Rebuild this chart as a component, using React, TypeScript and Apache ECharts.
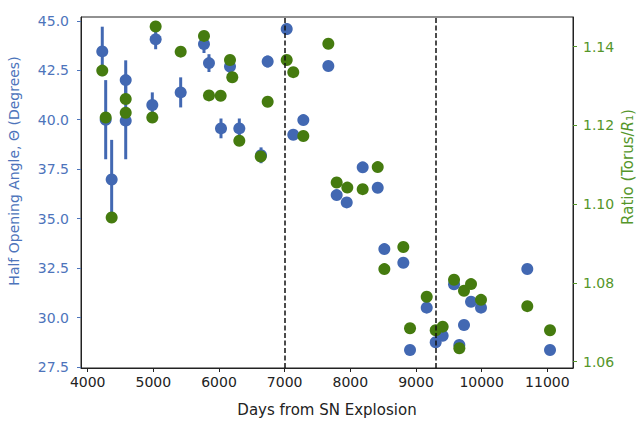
import React, { useEffect, useRef } from "react";
import * as echarts from "echarts";

// Blue series: half opening angle (degrees) with error bars
const angleDays = [4222, 4274, 4365, 4579, 4579, 4984, 5035, 5416, 5771, 5847, 6030, 6167, 6309, 6640, 6741, 7031, 7131, 7284, 7665, 7792, 7945, 8188, 8417, 8518, 8807, 8909, 9163, 9300, 9406, 9579, 9660, 9731, 9838, 9990, 10695, 11041];
const angleValues = [43.45, 40.0, 36.98, 42.0, 39.95, 40.74, 44.06, 41.38, 43.82, 42.86, 39.56, 42.69, 39.56, 38.2, 42.94, 44.58, 39.24, 39.98, 42.71, 36.19, 35.82, 37.59, 36.56, 33.46, 32.77, 28.36, 30.5, 28.75, 29.08, 31.68, 28.61, 29.62, 30.8, 30.5, 32.45, 28.36];
const angleErrors = [1.25, 2.0, 2.0, 1.0, 1.95, 0.64, 0.5, 0.76, 0.45, 0.45, 0.5, 0.35, 0.5, 0.4, 0.3, 0.3, 0, 0, 0, 0, 0, 0, 0, 0, 0, 0, 0, 0, 0, 0, 0, 0, 0, 0, 0, 0];

// Green series: ratio (Torus / R1)
const ratioDays = [4222, 4274, 4365, 4579, 4579, 4984, 5035, 5416, 5771, 5847, 6025, 6167, 6202, 6309, 6635, 6741, 7031, 7131, 7284, 7665, 7792, 7954, 8188, 8417, 8518, 8807, 8909, 9163, 9300, 9406, 9579, 9660, 9731, 9838, 9990, 10695, 11041];
const ratioValues = [1.1339, 1.122, 1.0966, 1.1267, 1.1232, 1.122, 1.1451, 1.1387, 1.1427, 1.1276, 1.1275, 1.1366, 1.1322, 1.1161, 1.1121, 1.126, 1.1366, 1.1335, 1.1173, 1.1407, 1.1055, 1.1042, 1.1038, 1.1094, 1.0835, 1.0891, 1.0685, 1.0765, 1.068, 1.0689, 1.0808, 1.0634, 1.078, 1.0797, 1.0757, 1.0741, 1.068];

// Reference lines
const vLines = [7000, 9300];

// Tick labels
const xTicks = [4000, 5000, 6000, 7000, 8000, 9000, 10000, 11000];
const angleTicks = [27.5, 30.0, 32.5, 35.0, 37.5, 40.0, 42.5, 45.0];
const ratioTicks = [1.06, 1.08, 1.1, 1.12, 1.14];

const BLUE = "#4268b2";
const BLUE_TEXT = "#4d74bb";
const GREEN = "#457b0f";
const GREEN_TEXT = "#55962a";
const FONT = "DejaVu Sans";

export default function App() {
  const ref = useRef<HTMLDivElement>(null);

  useEffect(() => {
    if (!ref.current) return;
    const chart = echarts.init(ref.current, null, { renderer: "svg" });

    const errData = angleDays
      .map((d, i) => [d, angleValues[i], angleErrors[i]])
      .filter((r) => r[2] > 0);

    chart.setOption({
      animation: false,
      backgroundColor: "#ffffff",
      textStyle: { fontFamily: FONT },
      grid: {
        left: 81,
        right: 69,
        top: 17,
        bottom: 54,
        show: true,
        borderColor: "#222",
        borderWidth: 1,
        backgroundColor: "transparent",
      },
      xAxis: {
        type: "value",
        min: 3898,
        max: 11391,
        name: "Days from SN Explosion",
        nameLocation: "middle",
        nameGap: 34,
        nameTextStyle: { color: "#222", fontSize: 15, fontFamily: FONT },
        axisLine: { show: true, onZero: false, lineStyle: { color: "#222", width: 1 } },
        axisTick: { show: true, length: 4, customValues: xTicks, lineStyle: { color: "#222" } },
        axisLabel: {
          customValues: xTicks,
          color: "#222",
          fontSize: 14,
          fontFamily: FONT,
          margin: 7,
          formatter: (v: number) => String(v),
        },
        splitLine: { show: false },
      },
      yAxis: [
        {
          type: "value",
          position: "left",
          min: 27.45,
          max: 45.19,
          axisLine: { show: true, lineStyle: { color: "#222", width: 1 } },
          axisTick: { show: true, length: 4, customValues: angleTicks, lineStyle: { color: BLUE_TEXT } },
          axisLabel: {
            customValues: angleTicks,
            color: BLUE_TEXT,
            fontSize: 14,
            fontFamily: FONT,
            margin: 12,
            formatter: (v: number) => v.toFixed(1),
          },
          splitLine: { show: false },
        },
        {
          type: "value",
          position: "right",
          min: 1.0584,
          max: 1.1475,
          axisLine: { show: true, lineStyle: { color: "#222", width: 1 } },
          axisTick: { show: true, length: 4, customValues: ratioTicks, lineStyle: { color: GREEN_TEXT } },
          axisLabel: {
            customValues: ratioTicks,
            color: GREEN_TEXT,
            fontSize: 14,
            fontFamily: FONT,
            margin: 10,
            formatter: (v: number) => v.toFixed(2),
          },
          splitLine: { show: false },
        },
      ],
      graphic: [
        {
          type: "text",
          x: 14,
          y: 171,
          rotation: Math.PI / 2,
          style: {
            text: "Half Opening Angle, Θ (Degrees)",
            fill: BLUE_TEXT,
            font: `14px "${FONT}"`,
            align: "center",
            verticalAlign: "middle",
          },
        },
        {
          type: "text",
          x: 628,
          y: 167,
          rotation: Math.PI / 2,
          style: {
            text: "Ratio (Torus/{i|R}₁)",
            fill: GREEN_TEXT,
            font: `15px "${FONT}"`,
            align: "center",
            verticalAlign: "middle",
            rich: {
              i: { fontStyle: "italic", fontSize: 15, fontFamily: FONT, fill: GREEN_TEXT },
            },
          },
        },
      ],
      series: [
        {
          type: "custom",
          name: "errors",
          xAxisIndex: 0,
          yAxisIndex: 0,
          z: 2,
          silent: true,
          clip: false,
          data: errData,
          renderItem: (params: any, api: any) => {
            const x = api.value(0);
            const y = api.value(1);
            const e = api.value(2);
            const p1 = api.coord([x, y - e]);
            const p2 = api.coord([x, y + e]);
            return {
              type: "line",
              shape: { x1: p1[0], y1: p1[1], x2: p2[0], y2: p2[1] },
              style: { stroke: BLUE, lineWidth: 3 },
            };
          },
          markLine: {
            silent: true,
            symbol: "none",
            label: { show: false },
            lineStyle: { color: "#111", type: [5, 2.5], width: 1.5 },
            data: vLines.map((v) => ({ xAxis: v })),
          },
        },
        {
          type: "scatter",
          name: "angle",
          xAxisIndex: 0,
          yAxisIndex: 0,
          z: 3,
          symbol: "circle",
          symbolSize: 12,
          itemStyle: { color: BLUE, opacity: 1 },
          data: angleDays.map((d, i) => [d, angleValues[i]]),
        },
        {
          type: "scatter",
          name: "ratio",
          xAxisIndex: 0,
          yAxisIndex: 1,
          z: 4,
          symbol: "circle",
          symbolSize: 12,
          itemStyle: { color: GREEN, opacity: 1 },
          data: ratioDays.map((d, i) => [d, ratioValues[i]]),
        },
      ],
    });

    return () => chart.dispose();
  }, []);

  return <div ref={ref} style={{ width: 642, height: 422, position: "absolute", left: 0, top: 0 }} />;
}
